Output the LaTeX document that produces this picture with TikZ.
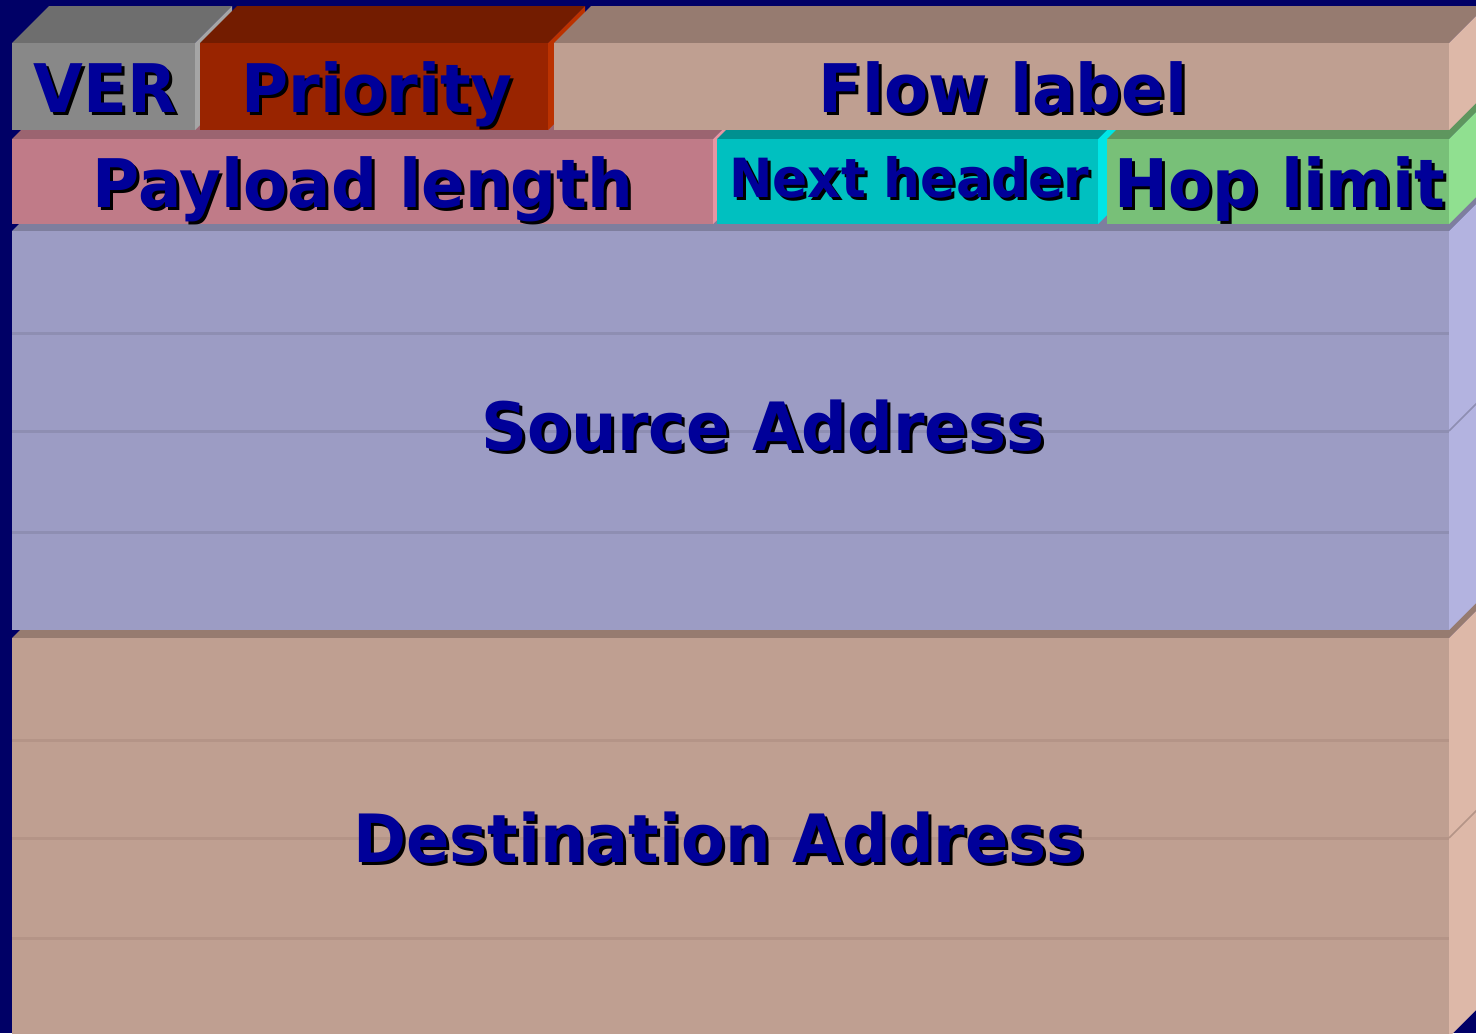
\documentclass[tikz,border=0pt]{standalone}
\usepackage{fontspec}
\setmainfont{DejaVu Sans}
\newfontfamily\labelfont[FakeStretch=0.96]{DejaVu Sans Bold}

\definecolor{navy}{RGB}{0,0,102}
\definecolor{ink}{RGB}{0,0,153}
% VER
\definecolor{verF}{RGB}{136,136,136}\definecolor{verT}{RGB}{110,110,110}\definecolor{verS}{RGB}{165,165,165}
% Priority
\definecolor{priF}{RGB}{153,36,0}\definecolor{priT}{RGB}{115,28,0}\definecolor{priS}{RGB}{187,50,0}
% Flow label / Destination
\definecolor{tanF}{RGB}{191,159,145}\definecolor{tanT}{RGB}{150,123,112}\definecolor{tanS}{RGB}{221,184,168}
\definecolor{tanL}{RGB}{180,148,135}
% Payload length
\definecolor{pinkF}{RGB}{192,123,136}\definecolor{pinkT}{RGB}{155,100,112}\definecolor{pinkS}{RGB}{229,150,162}
% Next header
\definecolor{cyanF}{RGB}{0,192,192}\definecolor{cyanT}{RGB}{0,144,144}\definecolor{cyanS}{RGB}{0,229,229}
% Hop limit
\definecolor{grnF}{RGB}{120,192,120}\definecolor{grnT}{RGB}{94,150,94}\definecolor{grnS}{RGB}{144,224,144}
% Source address
\definecolor{lavF}{RGB}{156,156,196}\definecolor{lavT}{RGB}{126,126,158}\definecolor{lavS}{RGB}{179,179,224}
\definecolor{lavL}{RGB}{142,142,178}

% a field drawn as a block: front x1,y1 to x2,y2; colours of front, top, side
\newcommand\fieldblock[7]{%
  \fill[#6] (#1,#2) -- ({#1+37},{#2-37}) -- ({#3+37},{#2-37}) -- (#3,#2) -- cycle;
  \fill[#7] (#3,#2) -- ({#3+37},{#2-37}) -- ({#3+37},{#4-37}) -- (#3,#4) -- cycle;
  \fill[#5] (#1,#2) rectangle (#3,#4);
}
% text with a black drop shadow 1.5pt right and down
\newcommand\shadowed[1]{%
  \makebox[0pt][l]{\hspace{1.5pt}\raisebox{-1.5pt}{\color{black}#1}}\color{ink}#1}
% a label: name, x, baseline y, size, text
\newcommand\fieldlabel[5]{%
  \node[labeltxt, font=\labelfont\fontsize{#4}{#4}\selectfont] (#1) at (#2,#3) {\shadowed{#5}};
}

\tikzset{
  labeltxt/.style={anchor=base, inner sep=0pt},
}

\begin{document}
\begin{tikzpicture}[x=0.5pt, y=-0.5pt]
  \useasboundingbox (0,0) rectangle (1476,1033);
  \fill[navy] (0,0) rectangle (1476,1033);
  \clip (0,0) rectangle (1476,1033);

  % row 4: destination address
  \fieldblock{12}{638}{1449}{1037}{tanF}{tanT}{tanS}
  \foreach \yy in {740,838,938} \draw[tanL, line width=1.5] (12,\yy) -- (1449,\yy);
  \draw[tanL, line width=0.8] (1449,838) -- (1486,801);

  % row 3: source address
  \fieldblock{12}{231}{1449}{630}{lavF}{lavT}{lavS}
  \foreach \yy in {333,431,532} \draw[lavL, line width=1.5] (12,\yy) -- (1449,\yy);
  \draw[lavL, line width=0.8] (1449,431) -- (1486,394);

  % row 2
  \fieldblock{12}{139}{713}{224}{pinkF}{pinkT}{pinkS}
  \fieldblock{717}{139}{1098}{224}{cyanF}{cyanT}{cyanS}
  \fieldblock{1107}{139}{1449}{224}{grnF}{grnT}{grnS}

  % row 1
  \fieldblock{12}{43}{195}{130}{verF}{verT}{verS}
  \fieldblock{200}{43}{548}{130}{priF}{priT}{priS}
  \fieldblock{554}{43}{1449}{130}{tanF}{tanT}{tanS}

  % labels
  \fieldlabel{ver}{105}{112}{33.5pt}{VER}
  \fieldlabel{prio}{377}{112}{33.5pt}{Priority}
  \fieldlabel{flow}{1003}{112}{33.5pt}{Flow label}
  \fieldlabel{plen}{363}{207}{33.5pt}{Payload length}
  \fieldlabel{next}{909}{197}{27pt}{Next header}
  \fieldlabel{hop}{1280}{207}{33.5pt}{Hop limit}
  \fieldlabel{src}{763}{450}{33.3pt}{Source Address}
  \fieldlabel{dst}{719}{862}{33.3pt}{Destination Address}
\end{tikzpicture}
\end{document}
